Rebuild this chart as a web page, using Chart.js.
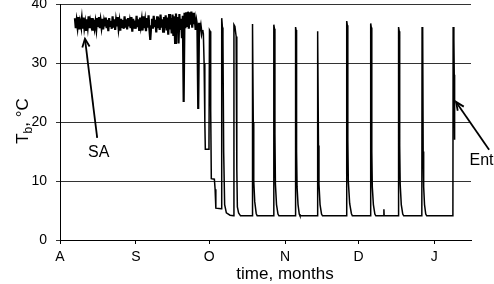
<!DOCTYPE html>
<html>
<head>
<meta charset="utf-8">
<script src="https://cdn.jsdelivr.net/npm/chart.js@4.4.1/dist/chart.umd.min.js"></script>
<style>
  html, body { margin: 0; padding: 0; background: #fff; }
  #wrap { width: 494px; height: 284px; }
</style>
</head>
<body>
<div id="wrap"><canvas id="c" width="494" height="284"></canvas></div>
<script>
// ---- Data (days since 1 August) ----
const tickDays = [0, 31, 61, 92, 122, 153];
const tickLabels = ['A', 'S', 'O', 'N', 'D', 'J'];

// Euthermic (summer active) period, regularly sampled
const euthermicStartDay = 6.1;
const sampleStepDays = 0.35;
const euthermicTb = [
  37.6, 35.9, 37.2, 36.1, 37.8, 35.7, 37.0, 36.3, 37.5, 35.8, 37.7, 36.0, 36.9, 35.6, 37.4,
  36.2, 37.9, 35.9, 37.1, 36.4, 37.6, 35.5, 37.3, 36.0, 37.0, 35.8, 37.6, 36.3, 37.8, 35.9,
  37.2, 36.1, 37.5, 35.7, 37.0, 36.2, 37.7, 35.9, 37.3, 35.4, 37.6, 36.3, 37.1, 35.8, 37.9,
  36.0, 37.4, 35.6, 37.2, 36.2, 37.8, 35.9, 37.0, 35.5, 37.5, 36.1, 37.3, 35.8, 37.9, 36.0,
  37.4, 35.7, 37.6, 36.2, 37.1, 35.9, 37.8, 35.3, 37.5, 36.0, 37.2, 35.8, 38.0, 36.1, 37.4,
  35.6, 37.7, 36.3, 37.3, 35.5, 37.9, 35.9, 37.1, 35.4, 37.6, 36.0, 38.1, 35.7, 33.9, 36.2,
  37.5, 35.8, 38.0, 36.1, 37.3, 35.2, 37.9, 35.9, 37.6, 35.6, 38.2, 36.0, 37.4, 35.3, 37.8,
  35.9, 38.1, 35.5, 37.7, 34.8, 38.3, 35.7, 37.6, 35.0, 38.2, 34.6, 37.9, 33.4, 38.4, 35.1,
  37.8, 33.3, 38.3, 35.6, 37.5, 34.2, 38.0, 23.4, 38.5, 35.9, 38.6, 36.3, 38.7, 35.8, 38.6,
  36.5, 38.7, 36.0, 38.5, 36.6, 37.4, 35.6, 37.0, 36.1, 22.2, 36.8, 35.4, 36.2, 35.0, 35.6
];

// Hibernation: torpor bouts and arousals
const torporDays = [
  58.25, 58.6, 58.9, 59.2, 59.4, 60.7, 60.9, 61.1, 61.35, 61.6, 61.85, 63.1, 63.4, 63.7, 65.9,
  66.1, 66.4, 66.6, 66.9, 67.3, 68.0, 69.5, 70.9,
  71.1, 71.5, 72.0, 72.2, 72.35, 72.5, 73.0, 73.8,
  78.5, 78.6, 78.8, 79.0, 79.2, 79.6, 80.2, 80.6,
  87.3, 87.4, 87.65, 87.85, 88.05, 88.5, 89.1, 89.5,
  96.2, 96.3, 96.5, 96.7, 96.9, 97.3, 97.8, 98.1,
  105.1, 105.2, 105.45, 105.65, 105.85, 106.3, 106.9, 107.3,
  117.1, 117.2, 117.45, 117.65, 117.85, 118.4, 119.1, 119.5,
  126.9, 127.0, 127.25, 127.45, 127.65, 128.1, 128.7, 129.1,
  132.3, 132.4, 132.5,
  138.3, 138.4, 138.65, 138.85, 139.05, 139.5, 140.1, 140.5,
  147.9, 148.0, 148.25, 148.45, 148.65, 149.0, 149.5, 149.9,
  160.6, 160.7, 161.0, 161.15, 161.3
];
const torporTb = [
  35.6, 35.0, 30.0, 20.0, 15.4, 15.4, 16.5, 35.6, 35.4, 22.0, 10.4, 10.3, 8.6, 5.4, 5.3,
  37.6, 36.0, 34.4, 15.0, 6.0, 4.6, 4.2, 4.1,
  36.5, 36.2, 34.5, 33.6, 12.0, 5.6, 4.6, 4.1,
  4.1, 36.6, 36.2, 20.0, 10.0, 6.5, 4.5, 4.1,
  4.1, 36.5, 35.8, 18.0, 9.5, 6.0, 4.4, 4.1,
  4.1, 36.1, 35.6, 15.0, 9.0, 6.0, 4.4, 4.1,
  4.1, 35.4, 34.8, 16.0, 9.5, 6.0, 4.4, 4.1,
  4.1, 37.1, 36.4, 17.0, 10.0, 6.2, 4.5, 4.1,
  4.1, 36.7, 36.0, 15.0, 9.0, 6.0, 4.4, 4.1,
  4.1, 5.2, 4.1,
  4.1, 36.1, 35.4, 16.0, 9.5, 6.0, 4.4, 4.1,
  4.1, 36.1, 35.5, 15.0, 9.0, 6.0, 4.4, 4.1,
  4.1, 36.1, 34.0, 28.0, 17.0
];

// Annotation anchors in data units: [tipDay, tipTb, tailDay, tailTb, textDay, textTb]
const saNote = [10.2, 34.1, 15.2, 17.3, 15.8, 14.8];
const entNote = [161.9, 23.4, 175.4, 15.3, 172.3, 13.4];

// ---- Build points ----
const summerPoints = euthermicTb.map((v, i) => ({ x: euthermicStartDay + i * sampleStepDays, y: v }));
const winterPoints = torporDays.map((d, i) => ({ x: d, y: torporTb[i] }));

const FONT = "'Liberation Sans', Arial, sans-serif";

const overlay = {
  id: 'overlay',
  afterDraw(chart) {
    const ctx = chart.ctx;
    const xs = chart.scales.x, ys = chart.scales.y;
    ctx.save();
    ctx.fillStyle = '#000';
    ctx.strokeStyle = '#000';

    function arrow(n) {
      const tx = xs.getPixelForValue(n[0]), ty = ys.getPixelForValue(n[1]);
      const sx = xs.getPixelForValue(n[2]), sy = ys.getPixelForValue(n[3]);
      ctx.lineWidth = 1.8;
      ctx.beginPath(); ctx.moveTo(sx, sy); ctx.lineTo(tx, ty); ctx.stroke();
      const a = Math.atan2(sy - ty, sx - tx);
      const L = 9, w = 0.42;
      ctx.beginPath();
      ctx.moveTo(tx + L * Math.cos(a - w), ty + L * Math.sin(a - w));
      ctx.lineTo(tx, ty);
      ctx.lineTo(tx + L * Math.cos(a + w), ty + L * Math.sin(a + w));
      ctx.stroke();
    }
    arrow(saNote); arrow(entNote);

    ctx.font = '16px ' + FONT;
    ctx.textAlign = 'center';
    ctx.textBaseline = 'middle';
    ctx.fillText('SA', xs.getPixelForValue(saNote[4]), ys.getPixelForValue(saNote[5]));
    ctx.fillText('Ent', xs.getPixelForValue(entNote[4]), ys.getPixelForValue(entNote[5]));

    // x-axis title
    ctx.font = '17px ' + FONT;
    ctx.fillText('time, months', 285, 274);

    // y-axis title with subscript
    ctx.translate(22, 121);
    ctx.rotate(-Math.PI / 2);
    ctx.textAlign = 'left';
    ctx.textBaseline = 'alphabetic';
    const big = '17px ' + FONT, small = '12px ' + FONT;
    ctx.font = big; const wT = ctx.measureText('T').width;
    ctx.font = small; const wb = ctx.measureText('b').width;
    ctx.font = big; const wR = ctx.measureText(', °C').width;
    let x0 = -(wT + wb + wR) / 2;
    const base = 6;
    ctx.font = big; ctx.fillText('T', x0, base); x0 += wT;
    ctx.font = small; ctx.fillText('b', x0, base + 4); x0 += wb;
    ctx.font = big; ctx.fillText(', °C', x0, base);
    ctx.restore();
  }
};

new Chart(document.getElementById('c'), {
  type: 'line',
  data: {
    datasets: [{
      label: 'active season',
      data: summerPoints,
      borderColor: '#000',
      borderWidth: 2.2,
      pointRadius: 0,
      tension: 0,
      fill: false
    }, {
      label: 'hibernation',
      data: winterPoints,
      borderColor: '#000',
      borderWidth: 1.5,
      pointRadius: 0,
      tension: 0,
      fill: false
    }]
  },
  options: {
    responsive: false,
    animation: false,
    devicePixelRatio: 1,
    layout: { padding: { left: 0, right: 23, top: 4, bottom: 0 } },
    plugins: { legend: { display: false }, tooltip: { enabled: false } },
    scales: {
      x: {
        type: 'linear',
        min: 0, max: 168,
        afterBuildTicks(scale) { scale.ticks = tickDays.map(v => ({ value: v })); },
        afterFit(scale) { scale.height = 44; scale.paddingLeft = 0; scale.paddingRight = 0; },
        ticks: {
          autoSkip: false, maxRotation: 0, color: '#000', padding: 5,
          font: { family: FONT, size: 14 },
          callback(v) { const i = tickDays.indexOf(v); return i >= 0 ? tickLabels[i] : ''; }
        },
        grid: { drawOnChartArea: false, drawTicks: true, tickLength: 4, color: '#000' },
        border: { display: true, color: '#000', width: 1 }
      },
      y: {
        min: 0, max: 40,
        afterFit(scale) { scale.width = 60; scale.paddingTop = 0; scale.paddingBottom = 0; },
        ticks: { stepSize: 10, color: '#000', padding: 9, font: { family: FONT, size: 14 } },
        grid: { color: '#333', tickLength: 4, drawTicks: true },
        border: { display: true, color: '#000', width: 1 }
      }
    }
  },
  plugins: [overlay]
});
</script>
</body>
</html>
